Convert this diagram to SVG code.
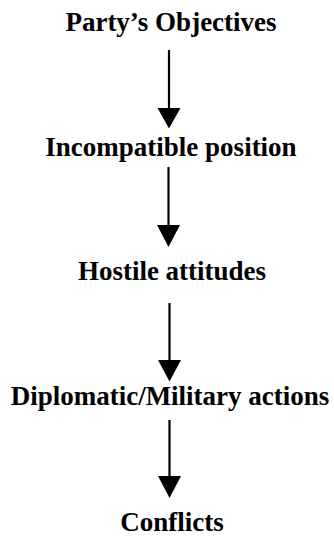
<svg xmlns="http://www.w3.org/2000/svg" width="334" height="536" viewBox="0 0 334 536">
<style>
text{font-family:"Liberation Serif","Times New Roman",serif;font-weight:bold;font-size:27px;fill:#000;text-anchor:middle}
.c line{stroke:#000;stroke-width:2.2}
.c path{fill:#000}
</style>
<rect width="334" height="536" fill="#fff"/>
<g id="n1"><text x="171" y="30.5">Party’s Objectives</text></g>
<g id="n2"><text x="171" y="155.5">Incompatible position</text></g>
<g id="n3"><text x="172" y="280">Hostile attitudes</text></g>
<g id="n4"><text x="170" y="405">Diplomatic/Military actions</text></g>
<g id="n5"><text x="172" y="531">Conflicts</text></g>
<g id="connectors" class="c">
<line x1="169" y1="50" x2="169" y2="110"/>
<path d="M157.5,108 L180.5,108 L169,128.5 Z"/>
<line x1="168.5" y1="167" x2="168.5" y2="227"/>
<path d="M157,225 L180,225 L168.5,247 Z"/>
<line x1="169.5" y1="303" x2="169.5" y2="362"/>
<path d="M158,360 L181,360 L169.5,381.5 Z"/>
<line x1="169.5" y1="420" x2="169.5" y2="478"/>
<path d="M158,476 L181,476 L169.5,498 Z"/>
</g>
</svg>
